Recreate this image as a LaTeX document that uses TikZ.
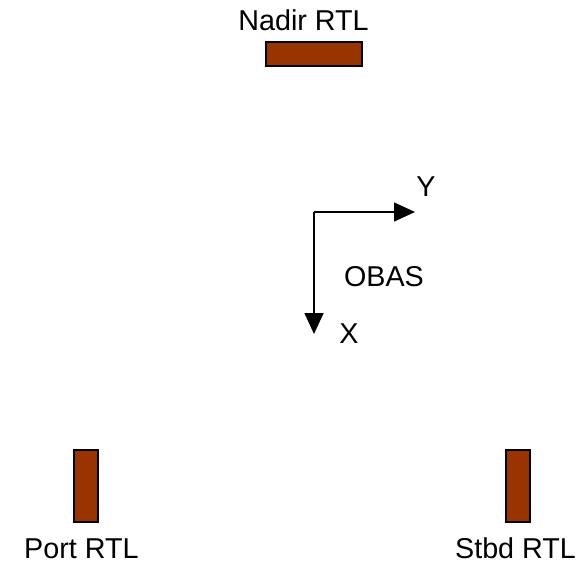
\documentclass[tikz,border=0pt]{standalone}
\usepackage{fontspec}
\setmainfont{Liberation Sans}
\usetikzlibrary{arrows.meta}
\definecolor{rtl}{HTML}{993300}
\begin{document}
\begin{tikzpicture}[x=1pt,y=-1pt,
  rtlbox/.style={draw=black,line width=2pt,fill=rtl,inner sep=0pt,outer sep=0pt},
  lbl/.style={font=\fontsize{28.7}{34}\selectfont,inner sep=0pt,anchor=base},
  axis/.style={line width=1.5pt,-{Triangle[length=21pt,width=19pt]}}]
\useasboundingbox (0,0) rectangle (583,566);
\node[rtlbox,minimum width=96pt,minimum height=24pt] (nadir) at (314,54) {};
\node[rtlbox,minimum width=24pt,minimum height=72pt] (port) at (86,486) {};
\node[rtlbox,minimum width=24pt,minimum height=72pt] (stbd) at (518,486) {};
\node[lbl] (nadirl) at (303.5,30.5) {Nadir RTL};
\node[lbl] (portl) at (81.4,558) {Port RTL};
\node[lbl] (stbdl) at (515.5,558) {Stbd RTL};
\coordinate (o) at (314,212);
\coordinate (ye) at (415,212);
\coordinate (xe) at (314,334);
\draw[axis] (o) -- (ye);
\draw[axis] (o) -- (xe);
\node[lbl] (yl) at (426,196) {Y};
\node[lbl] (xl) at (349,343) {X};
\node[lbl] (obas) at (384,286) {OBAS};
\end{tikzpicture}
\end{document}
